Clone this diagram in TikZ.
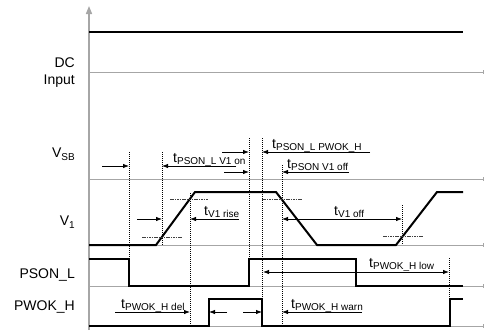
\documentclass[tikz,border=0pt]{standalone}
\usepackage{fontspec}
\setmainfont{Liberation Sans}
\usetikzlibrary{arrows.meta}

\newcommand{\tsub}[1]{{\fontsize{14}{14}\selectfont t}\raisebox{-2pt}{\fontsize{10}{10}\selectfont #1}}
\newcommand{\vsub}[1]{V\raisebox{-3pt}{\fontsize{10}{10}\selectfont #1}}

\begin{document}
\begin{tikzpicture}[x=1pt, y=-1pt,
    wave/.style={line width=2pt},
    baseline/.style={black!35, line width=0.9pt, -{Bar[width=4pt, line width=0.9pt]}},
    vmark/.style={line width=0.6pt, dash pattern=on 1pt off 1pt},
    level/.style={black!75, line width=0.6pt, dash pattern=on 1.6pt off 0.8pt},
    tarrow/.style={line width=0.8pt, -{Latex[length=6pt, width=4.5pt]}},
    tboth/.style={line width=0.8pt, {Latex[length=6pt, width=4.5pt]}-{Latex[length=6pt, width=4.5pt]}},
    sig/.style={font=\fontsize{14}{17}\selectfont, inner sep=0pt, align=right},
    tlab/.style={anchor=base west, inner sep=0pt}]
    \useasboundingbox (0,0) rectangle (485,333);

    % Axes
    \draw[black!35, line width=1.5pt, -{Triangle[length=8pt, width=6pt]}] (89,330) -- (89,6);
    \foreach \y in {72,179,245,286,326}
        \draw[baseline] (89,\y) -- (484,\y);

    % Signal names
    \node[sig, anchor=east] (dcin) at (75,73) {DC\\Input};
    \node[sig, anchor=base east] (vsb) at (75,157) {\vsub{SB}};
    \node[sig, anchor=base east] (vone) at (75,225) {\vsub{1}};
    \node[sig, anchor=base east] (pson) at (75,278) {PSON\_L};
    \node[sig, anchor=base east] (pwok) at (75,310) {PWOK\_H};

    % Waveforms
    \draw[wave] (89,32) -- (463,32);
    \draw[wave] (89,245) -- (156,245) -- (195,192) -- (276,192) -- (317,245) -- (396,245) -- (437,192) -- (463,192);
    \draw[wave] (89,259) -- (129,259) -- (129,286) -- (249,286) -- (249,259) -- (356,259) -- (356,286) -- (463,286);
    \draw[wave] (89,326) -- (209,326) -- (209,299) -- (262,299) -- (262,326) -- (450,326) -- (450,299) -- (463,299);

    % Threshold levels
    \draw[level] (142,237) -- (182,237);
    \draw[level] (170,199) -- (208,199);
    \draw[level] (262,199) -- (302,199);
    \draw[level] (383,236) -- (423,236);

    % Timing marks
    \draw[vmark] (129,152) -- (129,259);
    \draw[vmark] (162,152) -- (162,245);
    \draw[vmark] (190,193) -- (190,326);
    \draw[vmark] (249,138) -- (249,259);
    \draw[vmark] (262,138) -- (262,299);
    \draw[vmark] (282,165) -- (282,326);
    \draw[vmark] (402,205) -- (402,245);
    \draw[vmark] (449,258) -- (449,299);

    % Timing arrows
    \draw[tarrow] (102,166) -- (129,166);
    \draw[tarrow] (236,166) -- (162,166);
    \node[tlab] (tonv) at (173,162) {\tsub{PSON\_L V1 on}};
    \draw[tarrow] (222,152) -- (249,152);
    \draw[tarrow] (370,152) -- (262,152);
    \node[tlab] (tpwok) at (272,148) {\tsub{PSON\_L PWOK\_H}};
    \draw[tarrow] (224,172) -- (249,172);
    \draw[tarrow] (349,172) -- (282,172);
    \node[tlab] (toffv) at (287,168) {\tsub{PSON V1 off}};

    \draw[tarrow] (137,219) -- (162,219);
    \draw[tarrow] (239,219) -- (190,219);
    \node[tlab] (trise) at (204,215) {\tsub{V1 rise}};
    \draw[tboth] (282,219) -- (402,219);
    \node[tlab] (tfall) at (334,215) {\tsub{V1 off}};

    \draw[tboth] (263,272) -- (449,272);
    \node[tlab] (tlow) at (369,267) {\tsub{PWOK\_H low}};

    \draw[tarrow] (115,312) -- (190,312);
    \node[tlab] (tdel) at (121,308) {\tsub{PWOK\_H del}};
    \draw[tarrow] (227,312) -- (209,312);
    \draw[tarrow] (243,312) -- (262,312);
    \draw[tarrow] (362,312) -- (282,312);
    \node[tlab] (twarn) at (291,308) {\tsub{PWOK\_H warn}};

\end{tikzpicture}
\end{document}
